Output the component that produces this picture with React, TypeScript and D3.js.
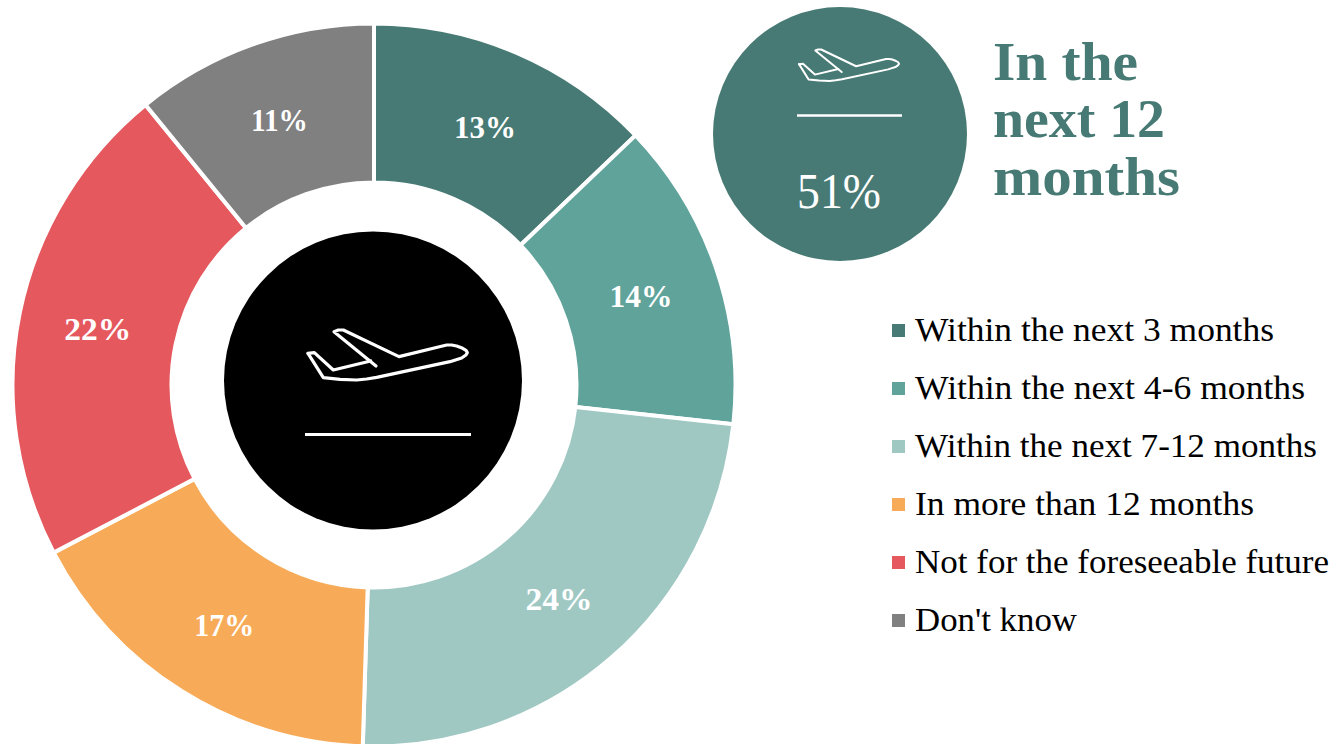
import * as d3 from "d3";

const categories = [
  "Within the next 3 months",
  "Within the next 4-6 months",
  "Within the next 7-12 months",
  "In more than 12 months",
  "Not for the foreseeable future",
  "Don't know",
];
const shares = [13, 14, 24, 17, 22, 11];
const palette = ["#477A74", "#5FA39B", "#A0C8C3", "#F7AB58", "#E4585E", "#808080"];
const legendWidths = [359, 390, 402, 339, 414, 162];
const shareLabelWidths = [62, 63, 67, 60, 67, 57];
const headingLines = ["In the", "next 12", "months"];
const headingWidths = [145, 172, 187];
const combinedShare = "51%";

// Outline of the aircraft glyph, in its own unit space.
const planeTail: [number, number][] = [
  [84, 160], [103, 158], [160, 210], [272, 183],
];
const planeBody: [number, number][] = [
  [288, 198], [162, 95], [175, 90], [190, 90], [357, 170], [500, 135], [515, 135],
  [530, 138], [548, 145], [558, 151], [562, 158], [558, 165], [545, 174], [510, 185],
  [290, 232], [260, 237], [230, 240], [180, 238], [130, 233], [84, 160],
];

const serif = "'Liberation Serif', 'Times New Roman', serif";

function Plane({ x, y, scale, strokeWidth }: { x: number; y: number; scale: number; strokeWidth: number }) {
  const sx = d3.scaleLinear().domain([84, 562]).range([x, x + 478 * scale]);
  const sy = d3.scaleLinear().domain([90, 240]).range([y, y + 150 * scale]);
  const line = d3.line<[number, number]>().x((d) => sx(d[0])).y((d) => sy(d[1]));
  return (
    <g fill="none" stroke="#fff" strokeWidth={strokeWidth} strokeLinejoin="round" strokeLinecap="round">
      <path d={line(planeTail) ?? ""} />
      <path d={line(planeBody) ?? ""} />
    </g>
  );
}

export default function App() {
  const cx = 374;
  const cy = 385;
  const pie = d3.pie<number>().value((d) => d).sort(null);
  const arc = d3.arc<d3.PieArcDatum<number>>().innerRadius(202.5).outerRadius(361.5);
  const slices = pie(shares);
  const legendY = d3.scaleLinear().domain([0, 5]).range([341, 631]);

  return (
    <svg
      width={1333}
      height={744}
      style={{ position: "absolute", left: 0, top: 0, fontFamily: serif }}
    >
      <g transform={`translate(${cx},${cy})`}>
        {slices.map((s, i) => (
          <path key={i} d={arc(s) ?? ""} fill={palette[i]} stroke="#fff" strokeWidth={4} />
        ))}
        {slices.map((s, i) => {
          const [lx, ly] = arc.centroid(s);
          return (
            <text
              key={i}
              x={lx}
              y={ly + 12}
              textAnchor="middle"
              fontSize={32}
              fontWeight={700}
              fill="#fff"
              textLength={shareLabelWidths[i]}
              lengthAdjust="spacingAndGlyphs"
            >
              {s.data}%
            </text>
          );
        })}
      </g>

      <circle cx={373} cy={380.5} r={149} fill="#000" />
      <Plane x={308} y={330} scale={0.3333} strokeWidth={3.2} />
      <line x1={305} x2={471} y1={434.5} y2={434.5} stroke="#fff" strokeWidth={3} />

      <circle cx={840} cy={134} r={127} fill="#477A74" />
      <Plane x={799} y={49.5} scale={0.2092} strokeWidth={2} />
      <line x1={797} x2={902} y1={115.5} y2={115.5} stroke="#fff" strokeWidth={2.5} />
      <text x={797} y={208} fontSize={50} fill="#fff" textLength={84} lengthAdjust="spacingAndGlyphs">
        {combinedShare}
      </text>

      {headingLines.map((t, i) => (
        <text
          key={t}
          x={993}
          y={[80, 137, 195][i]}
          fontSize={54}
          fontWeight={700}
          fill="#477A74"
          textLength={headingWidths[i]}
          lengthAdjust="spacingAndGlyphs"
        >
          {t}
        </text>
      ))}

      {categories.map((c, i) => (
        <g key={c}>
          <rect x={892} y={legendY(i) - 17} width={13} height={13} fill={palette[i]} />
          <text
            x={915}
            y={legendY(i)}
            fontSize={33}
            fill="#000"
            textLength={legendWidths[i]}
            lengthAdjust="spacingAndGlyphs"
          >
            {c}
          </text>
        </g>
      ))}
    </svg>
  );
}
